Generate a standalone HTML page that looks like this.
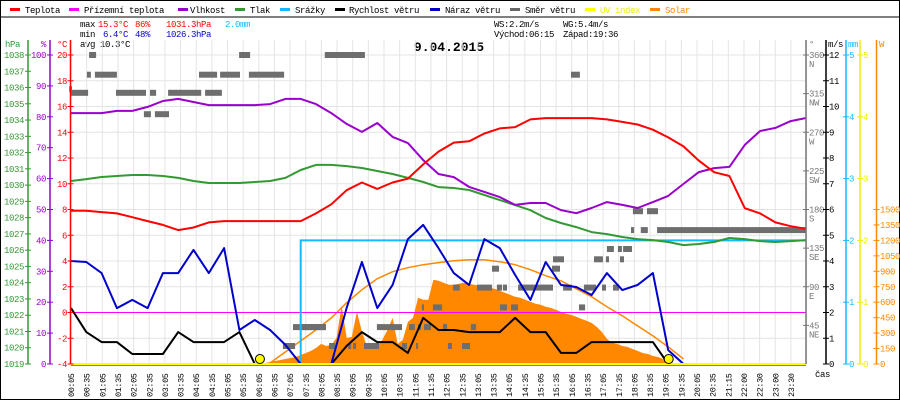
<!DOCTYPE html>
<html><head><meta charset="utf-8">
<style>
html,body{margin:0;padding:0;background:#fff;}
svg{display:block;font-family:"Liberation Mono",monospace;}
</style></head>
<body>
<svg id="chart" width="900" height="400" viewBox="0 0 900 400" xmlns="http://www.w3.org/2000/svg">
<rect x="0.5" y="0.5" width="899" height="399" fill="#fff" stroke="#000"/>
<line x1="0" y1="17" x2="900" y2="17" stroke="#000"/>
<g id="legend" font-size="9" letter-spacing="-0.4"></g>
<g id="stats" font-size="9" letter-spacing="-0.4">
<text x="80" y="27" fill="#000">max</text><text x="98" y="27" fill="#f00">15.3°C</text><text x="135" y="27" fill="#f00">86%</text><text x="166" y="27" fill="#f00">1031.3hPa</text><text x="225" y="27" fill="#1bf">2.0mm</text>
<text x="80" y="37" fill="#000">min</text><text x="103" y="37" fill="#00c">6.4°C</text><text x="135" y="37" fill="#00c">48%</text><text x="166" y="37" fill="#00c">1026.3hPa</text>
<text x="80" y="47" fill="#000">avg 10.3°C</text>
<text x="494" y="27" fill="#000">WS:2.2m/s</text><text x="563" y="27" fill="#000">WG:5.4m/s</text>
<text x="494" y="37" fill="#000">Východ:06:15</text><text x="563" y="37" fill="#000">Západ:19:36</text>
</g>
<text x="449" y="51" text-anchor="middle" font-size="13" font-weight="bold" fill="#000">9.04.2015</text>
<g id="grid"></g>
<g id="marks"></g>
<g id="axes" font-size="9" letter-spacing="-0.4"></g>
</svg>
<script>
// ---- data (49 equal samples over the day) ----
const temperature=[7.9,7.9,7.8,7.7,7.4,7.1,6.8,6.4,6.6,7.0,7.1,7.1,7.1,7.1,7.1,7.1,7.7,8.4,9.5,10.1,9.6,10.1,10.4,11.5,12.5,13.2,13.3,13.9,14.3,14.4,15.0,15.1,15.1,15.1,15.1,15.0,14.8,14.6,14.2,13.6,12.9,11.8,10.9,10.6,8.1,7.7,7.0,6.7,6.5];
const humidity=[81.2,81.2,81.2,81.9,81.9,83.2,85.1,85.8,84.8,83.8,83.8,83.8,83.8,84.1,85.8,85.8,84.1,81.2,77.7,75.1,78.0,73.5,71.5,66.0,61.5,60.5,57.3,55.7,54.0,51.5,52.1,52.1,49.8,48.8,50.5,52.4,51.5,50.5,52.4,54.4,58.3,62.1,63.4,63.8,70.9,75.4,76.4,78.6,79.6];
const pressure=[1030.25,1030.37,1030.5,1030.56,1030.62,1030.62,1030.56,1030.44,1030.25,1030.13,1030.13,1030.13,1030.19,1030.25,1030.44,1030.93,1031.24,1031.24,1031.17,1031.05,1030.87,1030.68,1030.44,1030.19,1029.88,1029.82,1029.70,1029.39,1029.08,1028.77,1028.46,1027.98,1027.67,1027.42,1027.11,1026.99,1026.81,1026.68,1026.62,1026.50,1026.31,1026.38,1026.50,1026.75,1026.68,1026.56,1026.50,1026.56,1026.62];
const precip=[0,0,0,0,0,0,0,0,0,0,0,0,0,0,0,2,2,2,2,2,2,2,2,2,2,2,2,2,2,2,2,2,2,2,2,2,2,2,2,2,2,2,2,2,2,2,2,2,2];
const windSpeed=[2.17,1.24,0.85,0.85,0.39,0.39,0.39,1.24,0.85,0.85,0.85,1.24,0,0,0,0,0,0,0.70,1.24,0.85,0.85,0.43,1.79,1.32,1.32,1.24,1.24,1.24,1.79,1.24,1.24,0.43,0.43,0.85,0.85,0.85,0.85,0.85,0,0,null,null,null,null,null,null,null,null];
const windGust=[4.0,3.96,3.53,2.17,2.49,2.17,3.53,3.53,4.43,3.53,4.5,1.32,1.71,1.32,0.74,0,0,0,2.17,3.96,2.17,3.07,4.85,5.4,4.5,3.53,3.07,4.85,4.5,3.46,2.49,3.96,3.07,2.99,2.68,3.53,2.87,3.07,3.53,0.54,0,null,null,null,null,null,null,null,null];
const solarMax=[null,null,null,null,null,null,null,null,null,null,null,null,null,10,117,224,331,448,594,721,828,896,935,964,984,1003,1013,1013,993,964,916,857,808,730,653,555,468,370,273,166,49,null,null,null,null,null,null,null,null];
// solar measured: 10-minute samples starting at 06:15
const solarStartHour=6.25;
const solarStepHour=1/6;
const solar=[0,10,19,29,39,49,58,68,88,107,127,156,195,175,185,253,565,253,263,506,312,166,146,175,234,331,448,195,234,409,448,643,623,623,818,808,789,769,769,779,789,779,769,760,750,740,730,711,692,672,653,643,623,604,584,575,555,545,526,506,487,477,458,438,419,399,360,312,244,205,195,175,166,146,127,107,97,78,68,49,29,10,0];
// wind direction: start hour, end hour, degrees
const dirStart=[0.67,5.57,8.37,16.41,0.60,0.86,4.26,4.95,5.89,0.02,0.08,1.55,2.66,3.25,4.46,2.46,2.82,7.33,7.00,7.56,10.07,11.12,11.41,11.61,12.23,13.14,8.51,9.13,9.29,9.65,10.89,11.35,12.39,12.85,11.54,11.90,14.09,14.45,16.67,12.56,13.34,13.99,14.19,14.68,16.15,16.83,17.42,17.78,13.83,15.79,18.43,18.89,18.37,18.69,19.22,17.58,17.94,18.11,15.82,17.16,17.55,18.01];
const dirEnd=[0.90,5.93,9.68,16.70,0.73,1.58,4.85,5.60,7.04,0.11,0.64,2.53,2.86,4.33,5.01,2.69,3.28,8.38,7.40,8.41,10.89,11.31,11.51,11.84,12.36,13.31,8.71,9.23,9.39,10.14,11.05,11.38,12.52,13.11,11.61,12.20,14.32,14.68,16.87,12.78,13.83,14.16,14.32,15.82,16.44,17.23,17.55,17.98,14.06,16.05,18.76,19.25,18.47,18.92,24.08,17.81,18.07,18.40,16.18,17.45,17.65,18.14];
const dirDeg=[360,360,360,337,337,337,337,337,337,320,316,316,316,316,316,291,291,43,21,43,43,43,43,43,43,43,21,21,21,21,21,21,21,21,66,66,66,66,66,89,89,89,89,89,89,89,89,89,111,111,178,178,156,156,156,134,134,134,122,122,122,122];
const xLabels=[];
for(let i=0;i<40;i++){const m=5+30*i;xLabels.push(String(Math.floor(m/60)).padStart(2,'0')+':'+String(m%60).padStart(2,'0'));}
xLabels.push('20:05','20:35','21:15','22:00','22:30','23:00','23:30');
const hpaTicks=[1038,1037,1036,1035,1034,1033,1032,1031,1030,1029,1028,1027,1026,1025,1024,1023,1022,1021,1020,1019];
const pctTicks=[100,90,80,70,60,50,40,30,20,10,0];
const tempTicks=[20,18,16,14,12,10,8,6,4,2,0,-2,-4];
const dirTicks=[360,315,270,225,180,135,90,45];
const dirNames=['N','NW','W','SW','S','SE','E','NE'];
const msTicks=[12,11,10,9,8,7,6,5,4,3,2,1,0];
const mmTicks=[5,4,3,2,1,0];
const wTicks=[1500,1350,1200,1050,900,750,600,450,300,150,0];

// ---- scales ----
const L=71,R=806,T=55,B=364;
const xS=i=>L+i*(R-L)/48;
const xL=j=>L+j*15.65;
const xH=h=>L+(h-0.08)*30.62;
const yT=t=>T+(20-t)*(B-T)/24;
const yP=p=>T+(1038-p)*(B-T)/19;
const yHm=h=>T+(100-h)*(B-T)/100;
const yV=v=>B-v*(B-T)/12;
const yD=d=>B-d*(B-T)/360;
const yR=m=>B-m*(B-T)/5;
const yW=w=>B-w*(B-T)/3000;
const NS='http://www.w3.org/2000/svg';
function mk(tag,parent,attrs){const e=document.createElementNS(NS,tag);for(const k in attrs)e.setAttribute(k,attrs[k]);parent.appendChild(e);return e;}
const grid=document.getElementById('grid'),marks=document.getElementById('marks'),axes=document.getElementById('axes'),legend=document.getElementById('legend');

// legend
const legItems=[['Teplota','#f00',10,25],['Přízemní teplota','#f0f',69,84],['Vlhkost','#90c',178,190],['Tlak','#393',235,250],['Srážky','#1bf',280,295],['Rychlost větru','#000',335,349],['Náraz větru','#00c',430,445],['Směr větru','#666',510,525],['UV index','#ff0',585,600],['Solar','#f80',650,665]];
legItems.forEach(it=>{
  const g=mk('g',legend,{});
  
  
  mk('rect',g,{x:it[2],y:8,width:10,height:3,fill:it[1]});
  const t=mk('text',g,{x:it[3],y:13,fill:(it[1]=='#ff0'?'#ee0':it[1]=='#666'?'#000':it[1]=='#f00'||it[1]=='#000'?'#000':'#000')});
  t.textContent=it[0];
  if(it[0]==='UV index')t.setAttribute('fill','#ee0');
  if(it[0]==='Solar')t.setAttribute('fill','#f80');
});

// grid
for(let j=0;j<=47;j++){const l=mk('line',grid,{x1:xL(j),y1:40,x2:xL(j),y2:B,stroke:'#e4e4e4'});}
tempTicks.forEach(t=>{const l=mk('line',grid,{x1:L,y1:yT(t),x2:R,y2:yT(t),stroke:'#e4e4e4'});});

function path(vals,xf,yf){let d='',pen=false;vals.forEach((v,i)=>{if(v===null){pen=false;return;}d+=(pen?'L':'M')+xf(i).toFixed(1)+' '+yf(v).toFixed(1);pen=true;});return d;}

// solar area
(function(){let d='M'+xH(solarStartHour).toFixed(1)+' '+B;solar.forEach((w,k)=>{d+='L'+xH(solarStartHour+k*solarStepHour).toFixed(1)+' '+yW(w).toFixed(1);});d+='L'+xH(solarStartHour+(solar.length-1)*solarStepHour).toFixed(1)+' '+B+'Z';
const p=mk('path',marks,{d:d,fill:'#f80'});})();
const sm=mk('path',marks,{d:path(solarMax,xS,yW),fill:'none',stroke:'#f80','stroke-width':1.5});

// 0°C line
const zl=mk('line',marks,{x1:L,y1:yT(0),x2:R,y2:yT(0),stroke:'#f0f','stroke-width':1});

// wind direction
dirDeg.forEach((d,i)=>{const r=mk('rect',marks,{x:xH(dirStart[i]).toFixed(1),y:(yD(d)-3).toFixed(1),width:Math.max(2,xH(dirEnd[i])-xH(dirStart[i])).toFixed(1),height:6,fill:'#6e6e6e'});});
// precipitation (step)
(function(){let d='';precip.forEach((v,i)=>{const x=xS(i),y=yR(v);if(i===0)d+='M'+x+' '+y;else d+='L'+x.toFixed(1)+' '+yR(precip[i-1]).toFixed(1)+'L'+x.toFixed(1)+' '+y.toFixed(1);});
const p=mk('path',marks,{d:d,fill:'none',stroke:'#1bf','stroke-width':2});})();
const series=[[pressure,yP,'#393','pressure-line'],[humidity,yHm,'#90c','humidity-line'],[temperature,yT,'#f00','temperature-line'],[windSpeed,yV,'#000','wind-speed-line'],[windGust,yV,'#00c','wind-gust-line']];
series.forEach(s=>{const p=mk('path',marks,{d:path(s[0],xS,s[1]),fill:'none',stroke:s[2],'stroke-width':2,'stroke-linejoin':'round'});});
// bottom lines
mk('line',marks,{x1:L,y1:B+1,x2:R,y2:B+1,stroke:'#000','stroke-width':1});
const uv=mk('line',marks,{x1:L,y1:B,x2:R,y2:B,stroke:'#ff0','stroke-width':2});

// sunrise/sunset
[6.25,19.6].forEach(h=>{const c=mk('circle',marks,{cx:xH(h),cy:B-5,r:4.5,fill:'#ff0',stroke:'#000','stroke-width':1});});

// axes
function axis(x,color,ticks,yf,labelX,anchor,header,hx){
  const l=mk('line',axes,{x1:x,y1:40,x2:x,y2:B,stroke:color,'stroke-width':1.5});
  
  ticks.forEach(t=>{const y=yf(t);mk('line',axes,{x1:x-3,y1:y,x2:x+3,y2:y,stroke:color});
    const tx=mk('text',axes,{x:labelX,y:y+3,fill:color,'text-anchor':anchor});tx.textContent=t;
    });
  const h=mk('text',axes,{x:hx,y:47,fill:color,'text-anchor':anchor});h.textContent=header;
  
}
axis(28,'#393',hpaTicks,yP,24,'end','hPa',20);
axis(50,'#90c',pctTicks,yHm,46,'end','%',46);
axis(70.5,'#f00',tempTicks,yT,67,'end','°C',67);
axis(806,'#777',dirTicks,yD,809,'start','°',809);
dirNames.forEach((n,i)=>{const t=mk('text',axes,{x:809,y:yD(dirTicks[i])+12,fill:'#777'});t.textContent=n;});
axis(826,'#000',msTicks,yV,829,'start','m/s',828);
axis(846,'#1bf',mmTicks,yR,849,'start','mm',848);
axis(860,'#ee0',mmTicks,yR,863,'start','',863);
axis(876.5,'#f80',wTicks,yW,880,'start','W',879);
const cas=mk('text',axes,{x:815,y:377,fill:'#000'});cas.textContent='čas';

xLabels.forEach((s,j)=>{const x=xL(j)+3;const t=mk('text',axes,{x:0,y:0,transform:'translate('+x.toFixed(1)+',397) rotate(-90)',fill:'#000','font-size':8.5});t.textContent=s;
  });
</script>
</body></html>
